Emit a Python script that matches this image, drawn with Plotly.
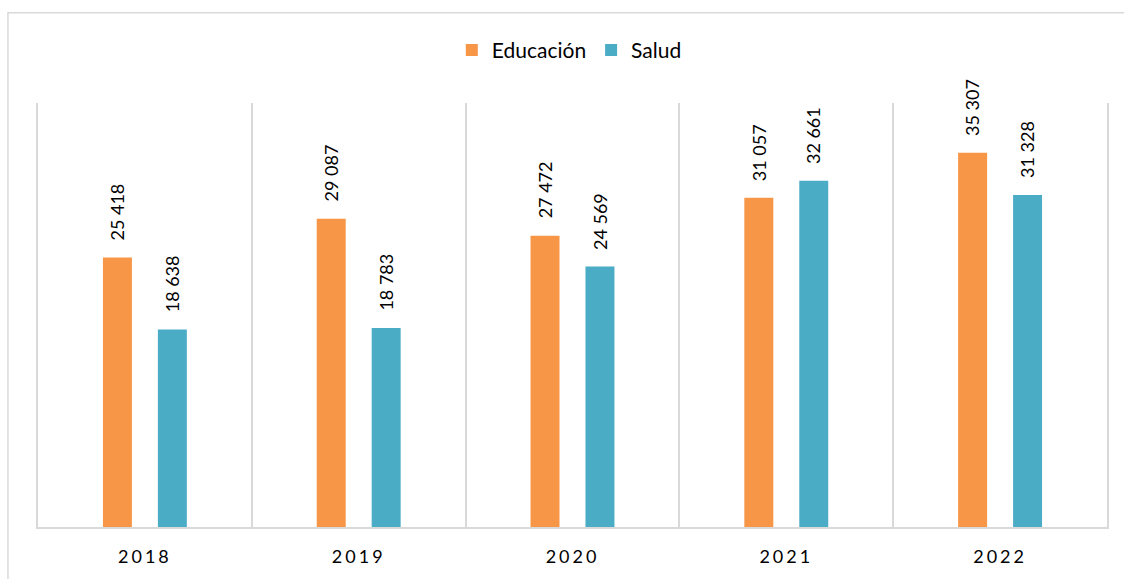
import plotly.graph_objects as go

years = ["2018", "2019", "2020", "2021", "2022"]
educacion = [25418, 29087, 27472, 31057, 35307]
salud = [18638, 18783, 24569, 32661, 31328]
series_names = ["Educación", "Salud"]
colors = ["#F79646", "#4BACC6"]

def fmt(v):
    return f"{v:,}".replace(",", " ")

FONT = "Lato, 'Open Sans', sans-serif"
xi = list(range(len(years)))
bar_w = 0.1355
offsets = [-0.1963, 0.0607]
centers = [-0.1285, 0.1285]

fig = go.Figure()
for name, vals, col, off in zip(series_names, [educacion, salud], colors, offsets):
    fig.add_trace(go.Bar(
        x=xi, y=vals, name=name, marker=dict(color=col, line=dict(width=0)),
        width=bar_w, offset=off, hoverinfo="skip",
    ))

annotations = []
for vals, c in zip([educacion, salud], centers):
    for i, v in enumerate(vals):
        annotations.append(dict(
            x=i + c, y=v, xref="x", yref="y", text=fmt(v), textangle=-90,
            showarrow=False, yanchor="bottom", xanchor="center", yshift=15,
            font=dict(family=FONT, size=18, color="#000000"),
        ))

fig.update_layout(
    width=1124, height=579,
    margin=dict(l=38, r=17, t=103, b=48),
    paper_bgcolor="white", plot_bgcolor="white",
    barmode="overlay",
    showlegend=True,
    legend=dict(orientation="h", x=0.497, xanchor="center", y=1.124, yanchor="middle",
                font=dict(family=FONT, size=21, color="#000000"),
                itemwidth=30, traceorder="normal", itemclick=False),
    xaxis=dict(
        range=[-0.5, 4.5], tickmode="array", tickvals=xi, ticktext=years,
        showgrid=False, zeroline=False, showline=True, linecolor="#D9D9D9", linewidth=2,
        ticks="", ticklabelstandoff=12,
        tickfont=dict(family=FONT, size=18, color="#000000"),
        minor=dict(tickmode="array", tickvals=[0.5, 1.5, 2.5, 3.5], showgrid=True,
                   gridcolor="#D9D9D9", gridwidth=2, ticks=""),
        fixedrange=True,
    ),
    yaxis=dict(
        range=[0, 40000], showgrid=False, zeroline=False, showticklabels=False,
        showline=True, mirror=True, linecolor="#D9D9D9", linewidth=2, ticks="",
        fixedrange=True,
    ),
    annotations=annotations,
    shapes=[dict(type="rect", xref="paper", yref="paper",
                 x0=-0.0281, x1=1.2, y0=-0.3, y1=1.2126,
                 line=dict(color="#D9D9D9", width=1.5), layer="below")],
)

post_js = (
    "document.body.style.margin='0';document.body.style.overflow='hidden';"
    "document.querySelectorAll('.xtick text').forEach(function(t){"
    "t.style.letterSpacing='3px';});"
)
fig.write_html("out.html", post_script=post_js, config={"displayModeBar": False})
